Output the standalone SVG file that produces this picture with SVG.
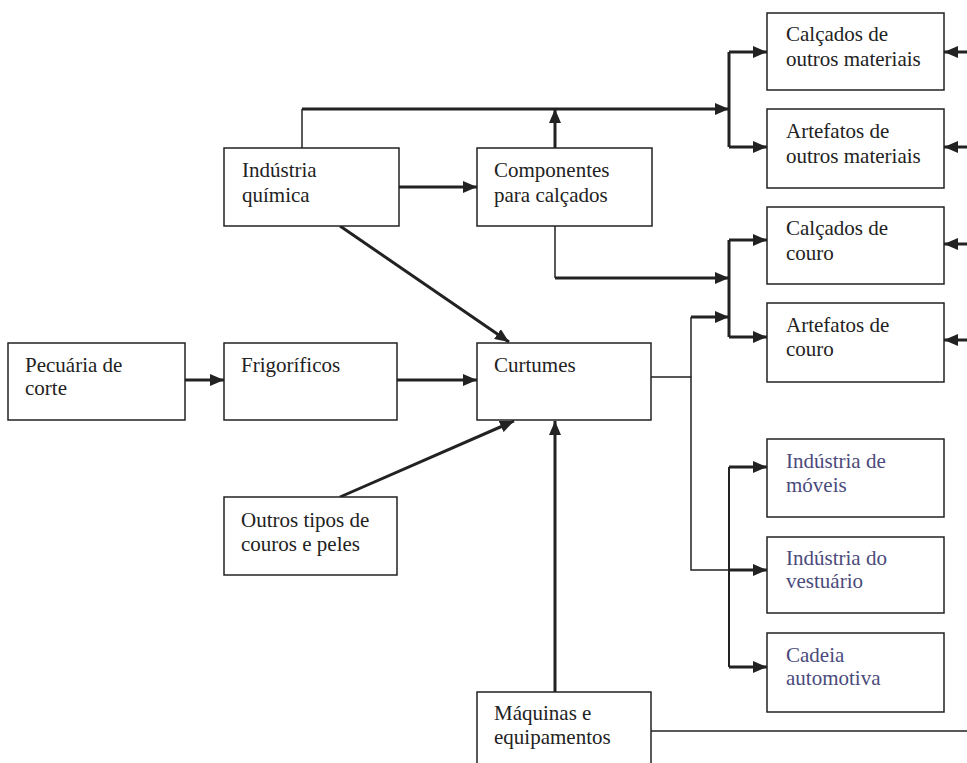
<svg xmlns="http://www.w3.org/2000/svg" width="967" height="763" viewBox="0 0 967 763">
<style>
.box{fill:#fff;stroke:#222;stroke-width:1.5}
.t{font-family:'Liberation Serif','Times New Roman',serif;font-size:21px;fill:#222}
.b{fill:#4a4a7c}
.thick{fill:none;stroke:#222;stroke-width:3}
.thin{fill:none;stroke:#222;stroke-width:1.5}
</style>
<defs>
<marker id="ah" markerUnits="userSpaceOnUse" markerWidth="14" markerHeight="12" refX="14" refY="6" orient="auto">
<path d="M0,0 L14,6 L0,12 z" fill="#222"/>
</marker>
</defs>
<rect width="967" height="763" fill="#fff"/>
<g id="connectors">
<path class="thin" d="M302,148 V109"/>
<path class="thick" d="M302,109 H729" marker-end="url(#ah)"/>
<path class="thick" d="M555,148 V109" marker-end="url(#ah)"/>
<path class="thick" d="M729,52 V147"/>
<path class="thick" d="M729,52 H767" marker-end="url(#ah)"/>
<path class="thick" d="M729,147 H767" marker-end="url(#ah)"/>
<path class="thick" d="M399,187 H477" marker-end="url(#ah)"/>
<path class="thin" d="M555,226 V278"/>
<path class="thick" d="M555,278 H729" marker-end="url(#ah)"/>
<path class="thick" d="M729,240 V337"/>
<path class="thick" d="M729,240 H767" marker-end="url(#ah)"/>
<path class="thick" d="M729,337 H767" marker-end="url(#ah)"/>
<path class="thick" d="M340,226 L509,342" marker-end="url(#ah)"/>
<path class="thick" d="M185,380 H224" marker-end="url(#ah)"/>
<path class="thick" d="M397,380 H477" marker-end="url(#ah)"/>
<path class="thick" d="M340,497 L514,421" marker-end="url(#ah)"/>
<path class="thick" d="M555,692 V421" marker-end="url(#ah)"/>
<path class="thin" d="M651,731 H967"/>
<path class="thin" d="M651,377 H691 V570 H729"/>
<path class="thick" d="M691,317 H729" marker-end="url(#ah)"/>
<path class="thin" d="M691,317 V377"/>
<path class="thick" d="M729,570 H767" marker-end="url(#ah)"/>
<path class="thick" d="M729,467 V667" style="stroke-width:2"/>
<path class="thick" d="M729,467 H767" marker-end="url(#ah)"/>
<path class="thick" d="M729,667 H767" marker-end="url(#ah)"/>
<path class="thick" d="M967,52 H944" marker-end="url(#ah)"/>
<path class="thick" d="M967,147 H944" marker-end="url(#ah)"/>
<path class="thick" d="M967,244 H944" marker-end="url(#ah)"/>
<path class="thick" d="M967,340 H944" marker-end="url(#ah)"/>
</g>
<g id="n-pecuaria"><rect class="box" x="8" y="343" width="177" height="77"/><text class="t" x="25" y="372">Pecuária de</text><text class="t" x="25" y="395">corte</text></g>
<g id="n-frigorificos"><rect class="box" x="224" y="343" width="173" height="77"/><text class="t" x="241" y="372">Frigoríficos</text></g>
<g id="n-curtumes"><rect class="box" x="477" y="343" width="174" height="77"/><text class="t" x="494" y="372">Curtumes</text></g>
<g id="n-quimica"><rect class="box" x="224" y="148" width="175" height="78"/><text class="t" x="242" y="177">Indústria</text><text class="t" x="242" y="202">química</text></g>
<g id="n-componentes"><rect class="box" x="477" y="148" width="175" height="78"/><text class="t" x="494" y="177">Componentes</text><text class="t" x="494" y="202">para calçados</text></g>
<g id="n-outros"><rect class="box" x="224" y="497" width="173" height="78"/><text class="t" x="241" y="527">Outros tipos de</text><text class="t" x="241" y="551">couros e peles</text></g>
<g id="n-maquinas"><rect class="box" x="477" y="692" width="174" height="80"/><text class="t" x="494" y="720">Máquinas e</text><text class="t" x="494" y="744">equipamentos</text></g>
<g id="n-calc-outros"><rect class="box" x="767" y="13" width="177" height="77"/><text class="t" x="786" y="41">Calçados de</text><text class="t" x="786" y="66">outros materiais</text></g>
<g id="n-art-outros"><rect class="box" x="767" y="109" width="177" height="79"/><text class="t" x="786" y="138">Artefatos de</text><text class="t" x="786" y="163">outros materiais</text></g>
<g id="n-calc-couro"><rect class="box" x="767" y="207" width="177" height="77"/><text class="t" x="786" y="235">Calçados de</text><text class="t" x="786" y="260">couro</text></g>
<g id="n-art-couro"><rect class="box" x="767" y="303" width="177" height="79"/><text class="t" x="786" y="332">Artefatos de</text><text class="t" x="786" y="356">couro</text></g>
<g id="n-moveis"><rect class="box" x="767" y="439" width="177" height="78"/><text class="t b" x="786" y="468">Indústria de</text><text class="t b" x="786" y="492">móveis</text></g>
<g id="n-vestuario"><rect class="box" x="767" y="537" width="177" height="76"/><text class="t b" x="786" y="565">Indústria do</text><text class="t b" x="786" y="588">vestuário</text></g>
<g id="n-automotiva"><rect class="box" x="767" y="633" width="177" height="79"/><text class="t b" x="786" y="662">Cadeia</text><text class="t b" x="786" y="685">automotiva</text></g>
</svg>
